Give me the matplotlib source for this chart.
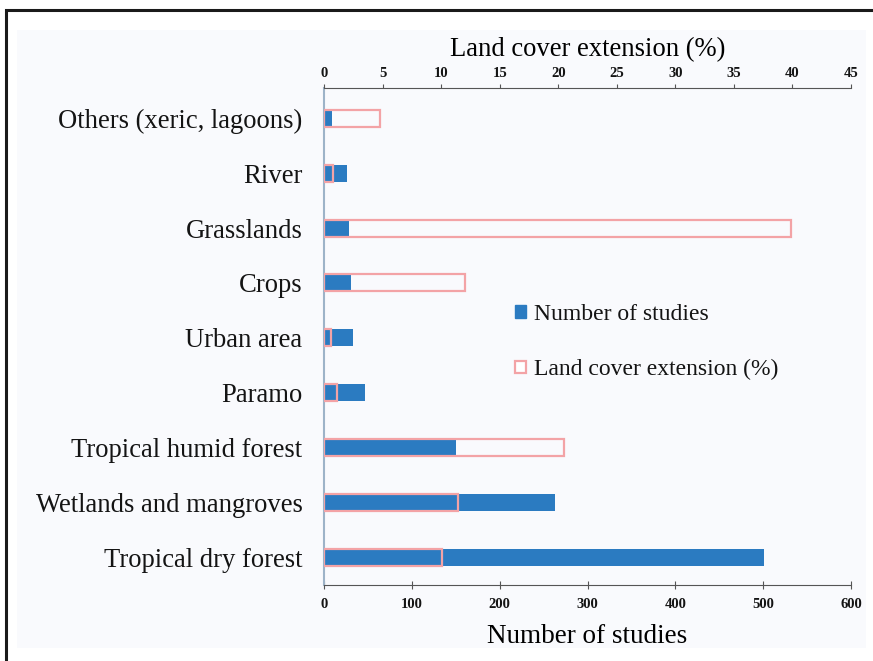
import matplotlib
matplotlib.use("Agg")
import matplotlib.pyplot as plt
from matplotlib.patches import Rectangle, Patch

categories = ["Tropical dry forest", "Wetlands and mangroves", "Tropical humid forest",
              "Paramo", "Urban area", "Crops", "Grasslands", "River",
              "Others (xeric, lagoons)"]
studies = [501, 263, 150, 47, 33, 31, 28, 26, 9]
land_cover = [10.1, 11.4, 20.5, 1.1, 0.6, 12.0, 39.9, 0.75, 4.8]
studies_ticks = [0, 100, 200, 300, 400, 500, 600]
land_ticks = [0, 5, 10, 15, 20, 25, 30, 35, 40, 45]

plt.rcParams['font.family'] = ['Liberation Serif', 'DejaVu Serif']
plt.rcParams['text.color'] = "#141414"
plt.rcParams['xtick.color'] = "#555555"
plt.rcParams['xtick.labelcolor'] = "#141414"
plt.rcParams['ytick.labelcolor'] = "#141414"

BLUE = "#2b7bc1"
PINK = "#f3a3a6"

fig = plt.figure(figsize=(8.73, 6.61), dpi=100)
# outer frame and inner panel
fig.patches.append(Rectangle((6/873, -0.1), 1.2, (661-10)/661 + 0.1, transform=fig.transFigure,
                             fill=False, edgecolor="#1a1a1a", linewidth=2.2, zorder=-2))
fig.patches.append(Rectangle((17/873, 1-648/661), (866-17)/873, (648-30)/661,
                             transform=fig.transFigure, facecolor="#f9fafd",
                             edgecolor="none", zorder=-2))

ax = fig.add_axes([324/873, 1-585/661, (851-324)/873, (585-88)/661])
ax.set_facecolor("none")
y = list(range(len(categories)))
h = 0.31
ax.barh(y, studies, height=h, color=BLUE, zorder=2)
ax.set_xlim(0, 600)
ax.set_ylim(-0.5, 8.55)
ax.set_yticks(y)
ax.set_yticklabels(categories, fontsize=19.2)
ax.tick_params(axis='y', length=0, pad=15.5)
ax.set_xticks(studies_ticks)
ax.set_xticklabels([str(t) for t in studies_ticks], fontweight='bold', fontsize=10.5)
ax.tick_params(axis='x', direction='inout', length=6, color="#555555", pad=6)
ax.set_xlabel("Number of studies", fontsize=19.5, labelpad=10)
ax.spines['right'].set_visible(False)
ax.spines['top'].set_visible(False)
ax.spines['bottom'].set_color("#555555")
ax.spines['left'].set_color("#9db3c8")
ax.spines['left'].set_linewidth(1.5)

ax2 = ax.twiny()
ax2.set_facecolor("none")
ax2.barh(y, land_cover, height=h, facecolor="none", edgecolor=PINK, linewidth=1.6, zorder=3)
ax2.set_xlim(0, 45)
ax2.set_xticks(land_ticks)
ax2.set_xticklabels([str(t) for t in land_ticks], fontweight='bold', fontsize=10.5)
ax2.tick_params(axis='x', direction='out', length=3, color="#555555", pad=2.5)
ax2.set_xlabel("Land cover extension (%)", fontsize=19.2, labelpad=8)
for s in ['right', 'left', 'bottom']:
    ax2.spines[s].set_visible(False)
ax2.spines['top'].set_color("#555555")

handles = [Patch(facecolor=BLUE, edgecolor=BLUE, label="Number of studies"),
           Patch(facecolor="white", edgecolor=PINK, linewidth=1.6, label="Land cover extension (%)")]
ax2.legend(handles=handles, loc='upper left', bbox_to_anchor=((515-324)/527, (585-304)/497),
           frameon=False, fontsize=17, handlelength=0.45, handleheight=0.45,
           handletextpad=0.35, labelspacing=1.45, borderaxespad=0, borderpad=0)

fig.savefig("out.png", dpi=100)
